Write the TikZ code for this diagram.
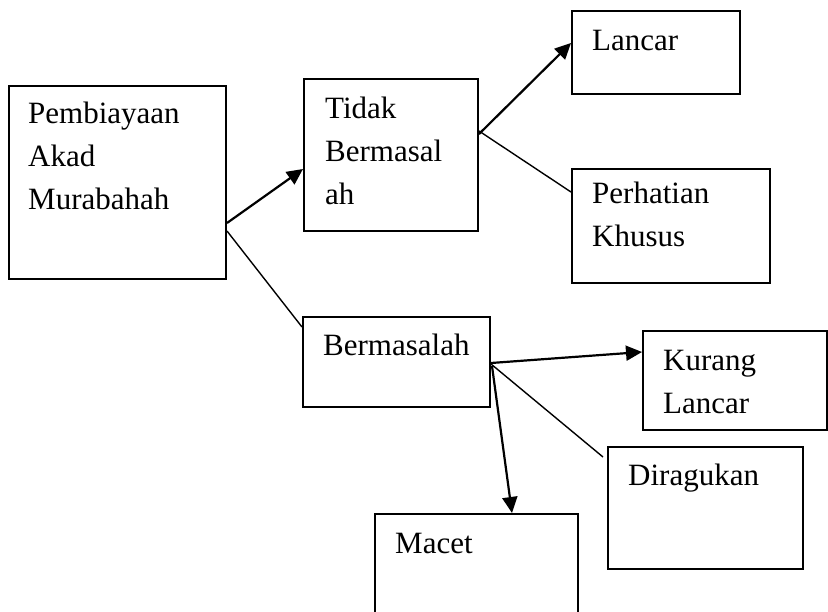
\documentclass[tikz,border=0pt]{standalone}
\usepackage{fontspec}
\setmainfont{Liberation Serif}
\usetikzlibrary{arrows.meta}
\usetikzlibrary{positioning}
\tikzset{>=stealth}

\begin{document}
\begin{tikzpicture}[x=1pt, y=-1pt,
  box/.style={draw, line width=2pt, anchor=north west, inner sep=0pt},
  txt/.style={anchor=north west, align=left, inner sep=0pt,
    font=\fontsize{31}{43}\selectfont},
  line/.style={draw, line width=1.4pt},
  arr/.style={draw, line width=2.2pt, -{Triangle[length=16pt,width=15pt]}}]
  \clip (0,0) rectangle (828,611);
  \useasboundingbox (0,0) rectangle (828,611);
  %% Boxes
  \node [box, minimum width=217pt, minimum height=193pt] (pam) at (8,85) {};
  \node [box, minimum width=174pt, minimum height=152pt] (tb) at (303,78) {};
  \node [box, minimum width=168pt, minimum height=83pt] (lc) at (571,10) {};
  \node [box, minimum width=198pt, minimum height=114pt] (ph) at (571,168) {};
  \node [box, minimum width=187pt, minimum height=90pt] (bm) at (302,316) {};
  \node [box, minimum width=184pt, minimum height=99pt] (kl) at (642,330) {};
  \node [box, minimum width=195pt, minimum height=122pt] (dr) at (607,446) {};
  \node [box, minimum width=203pt, minimum height=120pt] (mc) at (374,513) {};
  %% Texts (strut height 30pt above the first baseline)
  \node [txt] (pam_t) at ([xshift=20pt,yshift=-8pt]pam.north west)
  {\strut Pembiayaan\\Akad\\Murabahah};
  \node [txt] (tb_t) at ([xshift=22pt,yshift=-10pt]tb.north west)
  {\strut Tidak\\Bermasal\\ah};
  \node [txt] (lc_t) at ([xshift=21pt,yshift=-10pt]lc.north west) {\strut Lancar};
  \node [txt] (ph_t) at ([xshift=21pt,yshift=-5pt]ph.north west)
  {\strut Perhatian\\Khusus};
  \node [txt] (bm_t) at ([xshift=21pt,yshift=-9pt]bm.north west) {\strut Bermasalah};
  \node [txt] (kl_t) at ([xshift=21pt,yshift=-10pt]kl.north west)
  {\strut Kurang\\Lancar};
  \node [txt] (dr_t) at ([xshift=21pt,yshift=-9pt]dr.north west) {\strut Diragukan};
  \node [txt] (mc_t) at ([xshift=21pt,yshift=-10pt]mc.north west) {\strut Macet};
  %% Arrows
  \path [arr] ([yshift=-40.5pt]pam.east) to ([yshift=-14pt]tb.west);
  \path [line] ([yshift=-48.5pt]pam.east) to ([yshift=-11pt]bm.north west);
  \path [arr] ([yshift=21pt]tb.east) to ([yshift=9.5pt]lc.west);
  \path [line] ([yshift=24pt]tb.east) to ([yshift=-24pt]ph.north west);
  \path [arr] ([yshift=-1pt]bm.east) to ([yshift=28.5pt]kl.west);
  \path [line] ([yshift=-2pt]bm.east) to ([xshift=-4pt,yshift=-11pt]dr.north west);
  \path [arr] ([xshift=1pt,yshift=-4pt]bm.east) to ([xshift=138pt]mc.north west);
\end{tikzpicture}
\end{document}
